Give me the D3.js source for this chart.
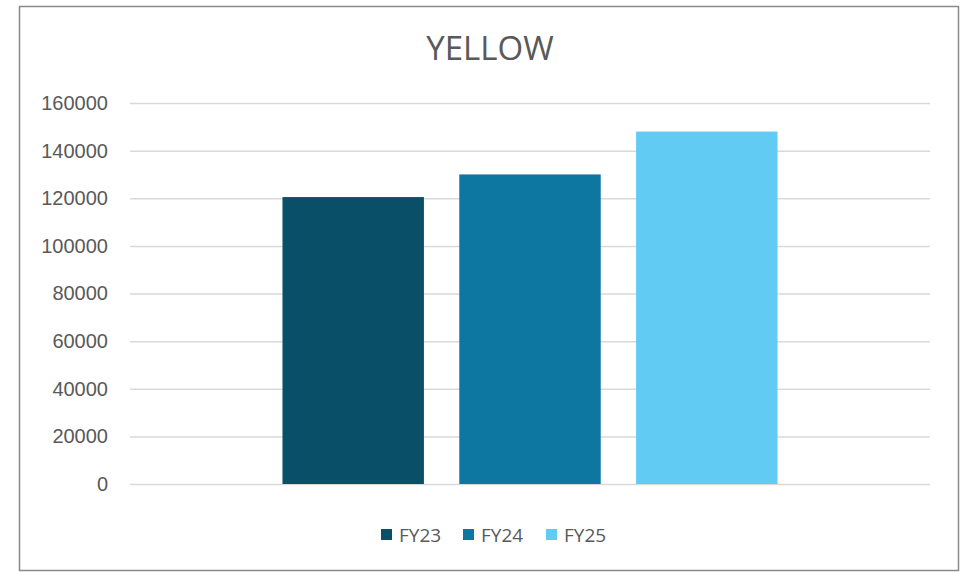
<!DOCTYPE html>
<html><head><meta charset="utf-8">
<script src="https://cdn.jsdelivr.net/npm/d3@7"></script>
<style>html,body{margin:0;padding:0;background:#fff;}</style>
</head><body><svg id="c" width="969" height="572"></svg>
<script>
const title = "YELLOW";
const categories = [""];
const seriesNames = ["FY23", "FY24", "FY25"];
const seriesValues = [[120500], [130000], [148000]];
const seriesColors = ["#094F67", "#0D76A1", "#61CBF3"];
const yTicks = [0, 20000, 40000, 60000, 80000, 100000, 120000, 140000, 160000];

const svg = d3.select("#c");
svg.append("rect").attr("x", 19.5).attr("y", 6.5).attr("width", 939).attr("height", 564)
  .attr("fill", "#fff").attr("stroke", "#8a8a8a").attr("stroke-width", 1.5);

const plot = {left: 130, right: 930, top: 103, bottom: 484};
const y = d3.scaleLinear().domain([0, 160000]).range([plot.bottom, plot.top]);
const x0 = d3.scaleBand().domain(categories).range([plot.left, plot.right]).paddingInner(0).paddingOuter(0.308);
const x1 = d3.scaleBand().domain(seriesNames).range([0, x0.bandwidth()]).paddingInner(0.2).paddingOuter(0);

const yAxis = d3.axisLeft(y).tickValues(yTicks).tickSize(-(plot.right - plot.left)).tickPadding(22).tickFormat(d3.format("d"));
const g = svg.append("g").attr("transform", `translate(${plot.left},0)`).call(yAxis);
g.select(".domain").remove();
g.selectAll(".tick line").attr("stroke", "#d9d9d9").attr("stroke-width", 1.5);
g.selectAll(".tick text").attr("fill", "#595959").attr("font-family", "Liberation Sans, Arial, sans-serif").attr("font-size", 20);

categories.forEach((c, ci) => {
  seriesNames.forEach((s, si) => {
    const v = seriesValues[si][ci];
    svg.append("rect")
      .attr("x", x0(c) + x1(s))
      .attr("y", y(v))
      .attr("width", x1.bandwidth())
      .attr("height", y(0) - y(v))
      .attr("fill", seriesColors[si]);
  });
});

svg.append("text").attr("x", 490).attr("y", 60).attr("text-anchor", "middle")
  .attr("font-family", "Open Sans, sans-serif").attr("font-size", 33).attr("fill", "#595959").text(title);

const legend = svg.append("g");
const legX = [381, 463, 546];
seriesNames.forEach((s, i) => {
  legend.append("rect").attr("x", legX[i]).attr("y", 529).attr("width", 11).attr("height", 11).attr("fill", seriesColors[i]);
  legend.append("text").attr("x", legX[i] + 18).attr("y", 542)
    .attr("font-family", "Open Sans, sans-serif").attr("font-size", 19).attr("fill", "#595959").text(s);
});
</script></body></html>
